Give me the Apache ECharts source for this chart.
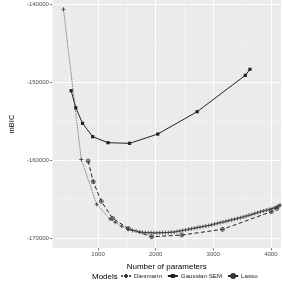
<!DOCTYPE html>
<html>
<head>
<meta charset="utf-8">
<script src="https://cdn.jsdelivr.net/npm/echarts@6/dist/echarts.min.js"></script>
<style>html,body{margin:0;padding:0;background:#fff}#c{width:283px;height:286px}</style>
</head>
<body>
<div id="c"></div>
<script>
const seriesNames = ['Diesmann', 'Gaussian SEM', 'Lasso'];

const diesmannX = [400, 709, 976, 1211, 1300, 1410, 1520, 1600, 1660, 1720, 1770, 1820, 1870, 1920, 1970, 2020, 2070, 2120, 2170, 2220, 2270,
  2320, 2370, 2420, 2470, 2520, 2570, 2620, 2670, 2720, 2770, 2820, 2870, 2920, 2970,
  3020, 3070, 3120, 3170, 3220, 3270, 3320, 3370, 3420, 3470, 3520, 3570, 3620, 3670, 3720, 3770, 3820, 3870, 3920, 3970, 4020, 4070, 4110, 4140, 4160];
const diesmannY = [-140680, -159910, -165650, -167530, -167950, -168450, -168850, -169000, -169070, -169180, -169230, -169260, -169280, -169290, -169300, -169300, -169290, -169280, -169270, -169250, -169220,
  -169200, -169130, -169060, -168990, -168930, -168850, -168780, -168700, -168630, -168560, -168490, -168430, -168360, -168280,
  -168180, -168090, -168000, -167910, -167820, -167730, -167640, -167550, -167460, -167370, -167270, -167160, -167050, -166940, -166820, -166710, -166600, -166500, -166400, -166300, -166200, -166080, -165960, -165850, -165750];

const gaussianX = [533, 613, 731, 907, 1173, 1547, 2037, 2720, 3557, 3637];
const gaussianY = [-151100, -153280, -155280, -156990, -157760, -157840, -156650, -153790, -149130, -148360];

const lassoX = [827, 917, 1056, 1253, 1528, 1931, 2453, 3160, 4008, 4104];
const lassoY = [-160100, -162750, -165260, -167440, -168750, -169800, -169580, -168850, -166590, -166180];

const xMin = 208, xMax = 4176;
const yMin = -171240, yMax = -139490;

const pair = (xs, ys) => xs.map((x, i) => [x, ys[i]]);

const plusSym = 'path://M0,5L10,5M5,0L5,10';
const circPlusSym = 'path://M10,5A5,5,0,1,1,0,5A5,5,0,1,1,10,5ZM0,5L10,5M5,0L5,10';
const FONT = '"Liberation Sans", Arial, sans-serif';

const chart = echarts.init(document.getElementById('c'), null, {renderer: 'canvas'});
chart.setOption({
  animation: false,
  backgroundColor: '#ffffff',
  grid: {left: 33, right: 2, top: 0, bottom: 38, show: true, backgroundColor: '#EBEBEB', borderWidth: 0},
  xAxis: {
    type: 'value', min: xMin, max: xMax, splitNumber: 4,
    name: 'Number of parameters', nameLocation: 'middle', nameGap: 12.5,
    nameTextStyle: {fontSize: 8, color: '#000', fontFamily: FONT},
    axisLine: {show: false},
    axisTick: {show: true, length: 2.5, lineStyle: {color: '#333', width: 0.6}},
    axisLabel: {fontSize: 6, color: '#4D4D4D', margin: 3.5, fontFamily: FONT, showMinLabel: false, showMaxLabel: false, formatter: v => String(v)},
    splitLine: {show: true, showMinLine: false, showMaxLine: false, lineStyle: {color: '#ffffff', width: 1}},
    minorTick: {show: false, splitNumber: 2},
    minorSplitLine: {show: true, lineStyle: {color: '#F5F5F5', width: 0.6}}
  },
  yAxis: {
    type: 'value', min: yMin, max: yMax, splitNumber: 3,
    name: 'mBIC', nameLocation: 'middle', nameGap: 28.5,
    nameTextStyle: {fontSize: 7.5, color: '#000', fontFamily: FONT},
    axisLine: {show: false},
    axisTick: {show: true, length: 2.5, lineStyle: {color: '#333', width: 0.6}},
    axisLabel: {fontSize: 6, color: '#4D4D4D', margin: 3.5, fontFamily: FONT, showMinLabel: false, showMaxLabel: false, formatter: v => String(v)},
    splitLine: {show: true, showMinLine: false, showMaxLine: false, lineStyle: {color: '#ffffff', width: 1}},
    minorTick: {show: false, splitNumber: 2},
    minorSplitLine: {show: true, lineStyle: {color: '#F5F5F5', width: 0.6}}
  },
  legend: {
    left: 120, top: 273, padding: 0, itemGap: 5, itemWidth: 10, itemHeight: 5,
    textStyle: {fontSize: 6.2, color: '#222', fontFamily: FONT, padding: [0, 0, 0, -2]},
    data: seriesNames
  },
  graphic: [{
    type: 'text', left: 92, top: 272.5,
    style: {text: 'Models', fontSize: 8, fill: '#000', fontFamily: FONT}
  }],
  series: [
    {
      name: seriesNames[0], type: 'line', data: pair(diesmannX, diesmannY),
      symbol: plusSym, symbolSize: 4, showAllSymbol: true,
      lineStyle: {color: '#555', width: 0.9, type: 'dotted'},
      itemStyle: {color: 'rgba(0,0,0,0)', borderColor: '#333', borderWidth: 0.8},
      z: 2
    },
    {
      name: seriesNames[1], type: 'line', data: pair(gaussianX, gaussianY),
      symbol: 'rect', symbolSize: 3.2, showAllSymbol: true,
      lineStyle: {color: '#222', width: 1, type: 'solid'},
      itemStyle: {color: '#222', borderWidth: 0},
      z: 3
    },
    {
      name: seriesNames[2], type: 'line', data: pair(lassoX, lassoY),
      symbol: circPlusSym, symbolSize: 4, showAllSymbol: true,
      lineStyle: {color: '#222', width: 1, type: [4, 2.5]},
      itemStyle: {color: 'rgba(0,0,0,0)', borderColor: '#333', borderWidth: 0.7},
      z: 2
    }
  ]
});
</script>
</body>
</html>
